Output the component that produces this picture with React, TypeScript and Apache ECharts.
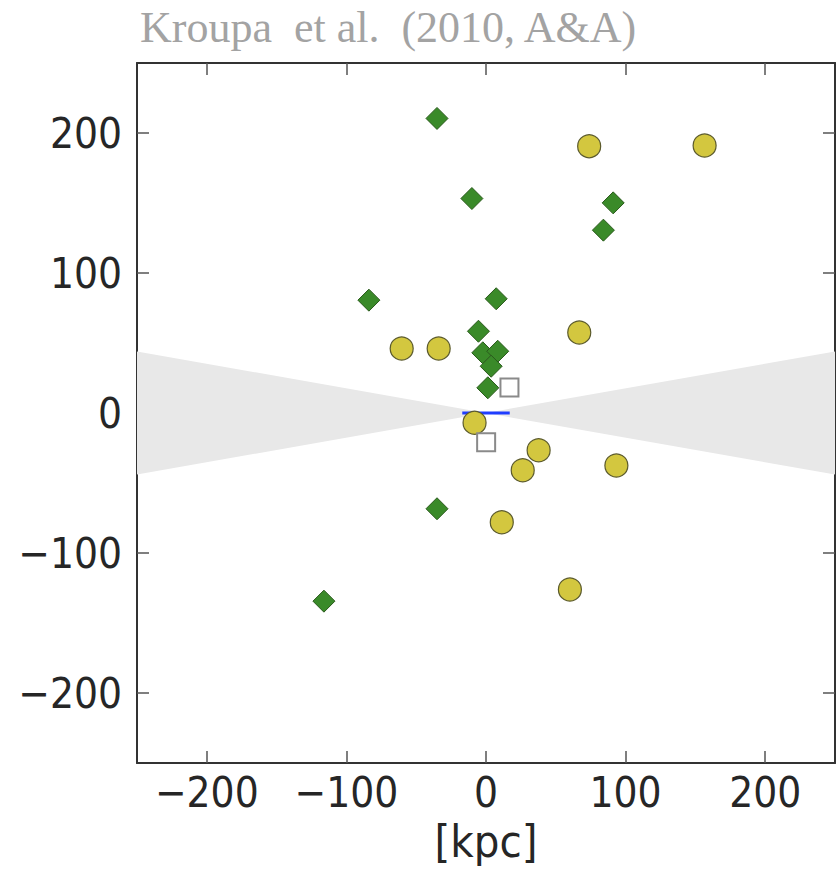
import React, { useEffect, useRef } from "react";
import * as echarts from "echarts";

const titleText = "Kroupa  et al.  (2010, A&A)";
const axisName = "[kpc]";
const tickValues = [-200, -100, 0, 100, 200];

const circleX = [73.9, 156.6, 66.8, -60.4, -33.9, -8.2, 37.7, 26.3, 93.4, 11.3, 60.1];
const circleY = [190.6, 191.1, 57.5, 46.1, 46.1, -7.0, -26.6, -40.9, -37.5, -78.0, -126.1];

const diamondX = [-35.1, -10.1, 91.1, 84.1, -83.9, 7.3, -5.4, -2.3, 8.4, 3.7, 1.3, -35.1, -116.1];
const diamondY = [210.4, 153.2, 150.1, 130.6, 80.6, 81.6, 58.4, 43.0, 44.1, 33.4, 18.0, -68.4, -134.4];

const squareX = [16.8, 0.1];
const squareY = [18.2, -20.9];

const discX = [-17, 17];
const discY = [0, 0];

const wedgeEdgesX = [-250, 250];
const wedgeHalfHeight = 44;

const zip = (xs: number[], ys: number[]) => xs.map((x, i) => [x, ys[i]]);
const fmt = (v: number) => String(v).replace("-", "\u2212");

export default function App() {
  const ref = useRef<HTMLDivElement>(null);
  useEffect(() => {
    if (!ref.current) return;
    const chart = echarts.init(ref.current, null, { renderer: "svg" });
    const labelFont = { fontFamily: "DejaVu Sans Condensed", fontSize: 42, color: "#262626" };
    const lineStyle = { color: "#333", width: 2 };
    const baseAxis = (pos: string, showLabel: boolean, margin: number) => ({
      type: "value",
      position: pos,
      min: -250,
      max: 250,
      splitLine: { show: false },
      axisLine: { show: true, onZero: false, lineStyle },
      axisTick: {
        show: true,
        inside: true,
        length: 12,
        customValues: tickValues,
        lineStyle: { color: "#555", width: 1.5 },
      },
      axisLabel: {
        show: showLabel,
        customValues: tickValues,
        margin,
        formatter: fmt,
        ...labelFont,
      },
    });
    chart.setOption({
      animation: false,
      backgroundColor: "#fff",
      title: {
        text: titleText,
        left: 135,
        top: 0,
        textStyle: {
          fontFamily: "Liberation Serif",
          fontSize: 44,
          fontWeight: "normal",
          color: "#a3a3a3",
        },
      },
      grid: {
        left: 137,
        top: 63,
        width: 698,
        height: 700,
        containLabel: false,
        outerBoundsMode: "none",
      },
      xAxis: [
        {
          ...baseAxis("bottom", true, 8),
          name: axisName,
          nameLocation: "middle",
          nameGap: 56,
          nameTextStyle: { ...labelFont, fontSize: 45, lineHeight: 44 },
        },
        { ...baseAxis("top", false, 8) },
      ],
      yAxis: [
        { ...baseAxis("left", true, 15) },
        { ...baseAxis("right", false, 15) },
      ],
      series: [
        {
          type: "custom",
          clip: true,
          silent: true,
          data: wedgeEdgesX.map((x) => [x]),
          renderItem: (params: any, api: any) => {
            const x = api.value(0);
            const p1 = api.coord([x, wedgeHalfHeight]);
            const p0 = api.coord([0, 0]);
            const p2 = api.coord([x, -wedgeHalfHeight]);
            return {
              type: "polygon",
              shape: { points: [p1, p0, p2] },
              style: { fill: "#e8e8e8", stroke: "none" },
            };
          },
          z: 1,
        },
        {
          type: "line",
          data: zip(discX, discY),
          showSymbol: false,
          symbol: "none",
          lineStyle: { color: "#1f3dff", width: 3 },
          z: 2,
        },
        {
          type: "scatter",
          data: zip(circleX, circleY),
          symbol: "circle",
          symbolSize: 23,
          itemStyle: { color: "#d3c73f", borderColor: "#5b5a2c", borderWidth: 1.2, opacity: 1 },
          z: 3,
        },
        {
          type: "scatter",
          data: zip(diamondX, diamondY),
          symbol: "diamond",
          symbolSize: 22,
          itemStyle: { color: "#3a8a29", borderColor: "#2a5a1c", borderWidth: 1, opacity: 1 },
          z: 4,
        },
        {
          type: "scatter",
          data: zip(squareX, squareY),
          symbol: "rect",
          symbolSize: 18,
          itemStyle: { color: "#ffffff", borderColor: "#8a8a8a", borderWidth: 2, opacity: 1 },
          z: 5,
        },
      ],
    });
    return () => chart.dispose();
  }, []);
  return (
    <div
      ref={ref}
      style={{ position: "absolute", left: 0, top: 0, width: 836, height: 869 }}
    />
  );
}
